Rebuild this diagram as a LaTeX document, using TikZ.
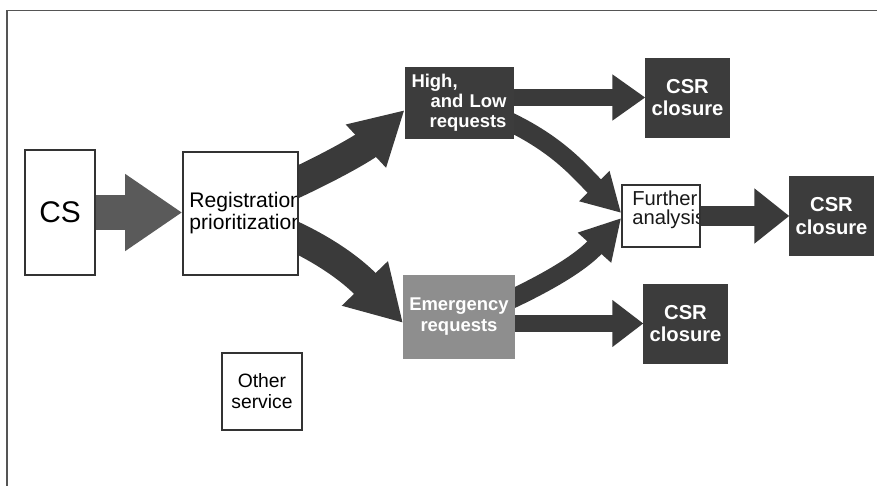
\documentclass[tikz,border=0pt]{standalone}
\usepackage{fontspec}
\setmainfont{Liberation Sans}
\usetikzlibrary{arrows.meta,backgrounds}

\definecolor{boxdark}{HTML}{3C3C3C}
\definecolor{arrowdark}{HTML}{3A3A3A}
\definecolor{csgray}{HTML}{5A5A5A}
\definecolor{emerggray}{HTML}{8E8E8E}
\definecolor{framegray}{HTML}{555555}

\begin{document}
\begin{tikzpicture}[x=0.2mm, y=0.2mm,
    plainbox/.style={draw=black!80, line width=0.9pt, fill=white, inner sep=0pt},
    darkbox/.style={fill=boxdark, draw=boxdark, text=white, font=\bfseries\fontsize{10.5}{11.5}\selectfont},
    csrbox/.style={darkbox, minimum width=14.6mm, minimum height=15.8mm, align=center, font=\bfseries\fontsize{11.5}{13}\selectfont},
    fatarrow/.style n args={3}{draw=arrowdark, line width=#1, -{Triangle[length=#2, width=#3]}},
  ]
            \useasboundingbox (0,0) rectangle (877,-486);

            % Rahmen
            \draw[framegray, line width=1pt] (7,-486) -- (7,-10.5) -- (877,-10.5);

            % Kästen
            \node[plainbox, minimum width=14mm, minimum height=25mm, font=\fontsize{17}{20}\selectfont] (cs) at (60,-212.5) {CS};

            \node[plainbox, minimum width=23mm, minimum height=24.6mm,
                path picture={\node[anchor=west, align=left, inner sep=0pt, font=\fontsize{12}{12.5}\selectfont]
                    at ([xshift=1mm]path picture bounding box.west) {Registration\\prioritization};}]
                (reg) at (240.5,-213.5) {};

            \node[darkbox, minimum width=21.6mm, minimum height=14.2mm, text width=19mm, align=right, inner xsep=1.3mm]
                (high) at (459,-102.5) {High,\hfill\null\\and Low\\requests};

            \node[darkbox, fill=emerggray, draw=emerggray, minimum width=21.6mm, minimum height=16.6mm, align=center]
                (emerg) at (459,-316.5) {Emergency\\requests};

            \node[plainbox, minimum width=15.6mm, minimum height=12.4mm,
                path picture={\node[anchor=west, align=left, inner sep=0pt, text=black!90, font=\fontsize{11.5}{11}\selectfont]
                    at ([xshift=1.4mm, yshift=1.2mm]path picture bounding box.west) {Further\\analysis};}]
                (further) at (661,-216) {};

            \node[csrbox] (csr1) at (687.5,-97.5) {CSR\\closure};
            \node[csrbox] (csr2) at (831.5,-216) {CSR\\closure};
            \node[csrbox] (csr3) at (685.5,-323.5) {CSR\\closure};

            \node[plainbox, minimum width=16mm, minimum height=15.4mm, align=center, font=\fontsize{11}{12}\selectfont]
                (other) at (262,-391.5) {Other\\service};

            % Pfeile (hinter den Kästen)
            \begin{scope}[on background layer]
                \draw[fatarrow={7mm}{11.4mm}{14.6mm}, draw=csgray] ([xshift=-1mm]cs.east) -- (cs.east -| reg.west);

                \draw[fatarrow={6mm}{10.6mm}{11mm}] ([xshift=-1.5mm, yshift=5.7mm]reg.east) to[out=25, in=223] ([yshift=-1.5mm]high.west);
                \draw[fatarrow={6mm}{11mm}{12mm}] ([xshift=-1.5mm, yshift=-4.3mm]reg.east) to[out=-25, in=134] ([yshift=-1.3mm]emerg.west);

                \draw[fatarrow={3.8mm}{7.6mm}{8mm}] ([xshift=-1.5mm, yshift=-3.5mm]high.east) to[out=-25, in=135] ([yshift=0.6mm]further.west);
                \draw[fatarrow={3.8mm}{8mm}{8.4mm}] ([xshift=-1.5mm, yshift=3.1mm]emerg.east) to[out=25, in=-132] ([yshift=-0.4mm]further.west);

                \draw[fatarrow={3.4mm}{6.6mm}{8.8mm}] (high.east |- csr1.west) -- (csr1.west);
                \draw[fatarrow={4mm}{7mm}{10.6mm}] (further.east) -- (further.east -| csr2.west);
                \draw[fatarrow={3.4mm}{6.2mm}{9mm}] (emerg.east |- csr3.west) -- (csr3.west);
            \end{scope}
        \end{tikzpicture}
\end{document}
